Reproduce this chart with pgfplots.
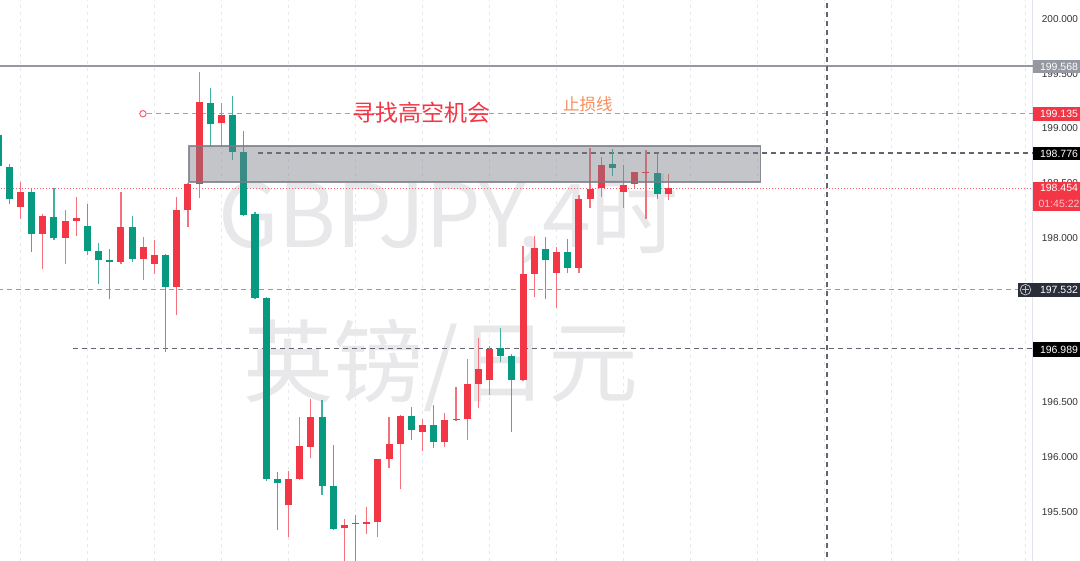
\documentclass[border=0pt]{standalone}
\usepackage{pgfplots}
\pgfplotsset{compat=1.18}
\usepackage{pgfplotstable}
\usepackage{fontspec}
\setmainfont{Liberation Sans}
\newfontfamily\cjk{Noto Sans CJK SC}

\definecolor{upred}{HTML}{F23645}
\definecolor{dngreen}{HTML}{089981}
\definecolor{wickred}{HTML}{F4707B}
\definecolor{wickgreen}{HTML}{40B0A0}
\definecolor{lvlgray}{HTML}{9598A1}
\definecolor{rectgray}{HTML}{787B86}
\definecolor{dashdark}{HTML}{62656F}
\definecolor{dashlight}{HTML}{9A9CA4}
\definecolor{gridc}{HTML}{E6E8EE}
\definecolor{wmark}{HTML}{E8E8EA}
\definecolor{axisc}{HTML}{E0E3EB}
\definecolor{navy}{HTML}{2A2E39}
\definecolor{stoporange}{HTML}{F88D5E}
\definecolor{ticktext}{HTML}{333333}

% red = rising candles, green = falling candles
\pgfplotstableread{
i  o       h       l       c
2  198.286 198.514 198.174 198.417
4  198.039 198.216 197.717 198.204
6  198.000 198.256 197.760 198.158
7  198.158 198.377 198.021 198.180
11 197.781 198.417 197.760 198.103
13 197.811 198.012 197.619 197.915
14 197.760 197.982 197.674 197.845
16 197.555 198.372 197.297 198.256
17 198.258 198.500 198.103 198.493
18 198.493 199.513 198.368 199.242
20 199.047 199.236 198.843 199.123
26 195.559 195.875 195.272 195.799
27 195.802 196.365 195.790 196.100
28 196.091 196.530 195.991 196.368
31 195.349 195.437 195.053 195.376
33 195.391 195.543 195.294 195.409
34 195.409 195.985 195.267 195.982
35 195.984 196.365 195.902 196.119
36 196.121 196.380 195.705 196.377
38 196.226 196.344 196.055 196.292
40 196.137 196.399 196.094 196.338
41 196.338 196.642 196.326 196.350
42 196.350 196.892 196.155 196.664
43 196.669 197.090 196.447 196.806
44 196.700 197.010 196.566 196.989
47 196.706 197.927 196.694 197.668
48 197.668 198.021 197.464 197.909
50 197.678 197.921 197.363 197.875
52 197.729 198.393 197.683 198.353
53 198.356 198.819 198.277 198.447
54 198.459 198.743 198.377 198.667
56 198.423 198.667 198.277 198.484
57 198.490 198.606 198.447 198.600
58 198.594 198.804 198.174 198.606
60 198.402 198.582 198.347 198.454
}\upcandles

\pgfplotstableread{
i  o       h       l       c
0  198.940 198.970 198.620 198.660
1  198.651 198.676 198.311 198.356
3  198.417 198.459 197.875 198.039
5  198.189 198.459 197.982 198.000
8  198.112 198.308 197.845 197.881
9  197.884 197.954 197.583 197.796
10 197.796 197.900 197.440 197.781
12 198.103 198.201 197.781 197.806
15 197.848 197.850 196.962 197.555
19 199.236 199.370 198.828 199.041
21 199.121 199.297 198.715 198.788
22 198.785 198.977 198.204 198.210
23 198.216 198.235 197.446 197.452
24 197.449 197.460 195.784 195.796
25 195.796 195.860 195.333 195.760
29 196.368 196.521 195.650 195.732
30 195.735 196.107 195.333 195.340
32 195.400 195.473 195.053 195.388
37 196.374 196.459 196.153 196.249
39 196.292 196.475 196.085 196.137
45 196.995 197.175 196.865 196.925
46 196.922 196.940 196.231 196.706
49 197.900 198.012 197.440 197.799
51 197.875 197.991 197.683 197.723
55 198.676 198.810 198.569 198.642
59 198.596 198.774 198.356 198.405
}\dncandles

\begin{document}
\begin{tikzpicture}[x=1pt,y=1pt]
\path[use as bounding box, fill=white] (0,0) rectangle (1080,561);
\begin{axis}[
  at={(0,0)}, anchor=south west,
  scale only axis, width=1033pt, height=561pt,
  xmin=0.17, xmax=92.65, ymin=195.0502, ymax=200.1735,
  axis y line*=right, axis x line*=bottom,
  x axis line style={draw=none},
  y axis line style={draw=axisc, line width=1pt},
  xtick={2,8,...,92}, xticklabels={},
  xmajorgrids,
  major x grid style={gridc, line width=0.8pt, dash pattern=on 3pt off 4pt},
  ytick={195.5,196,196.5,198,198.5,199,199.5,200},
  major tick length=0pt,
  yticklabel style={font=\fontsize{10}{12}\selectfont, text=ticktext, xshift=5.4pt,
    /pgf/number format/.cd, fixed, fixed zerofill, precision=3, assume math mode=true},
  clip mode=individual,
  candle/.style={draw=none, no markers, forget plot,
    error bars/.cd, y dir=plus, y explicit, error mark=none},
]

% watermark
\node[anchor=base west, inner sep=0pt, text=wmark, font=\cjk\fontsize{88}{96}\selectfont]
  at (axis cs:19.69,197.909) {GBPJPY,4时};
\node[anchor=base west, inner sep=0pt, text=wmark, font=\cjk\fontsize{90}{100}\selectfont]
  at (axis cs:21.92,196.566) {英镑/日元};

% level lines
\addplot[lvlgray, line width=2pt] coordinates {(0,199.568)(93,199.568)};
\addplot[upred!65, line width=1.2pt, dash pattern=on 5pt off 4pt] coordinates {(13.33,199.135)(93,199.135)};
\addplot[only marks, mark=*, mark size=3.2pt, mark options={fill=white, draw=upred!80, line width=1pt}] coordinates {(12.97,199.135)};
\addplot[dashdark, line width=1.5pt, dash pattern=on 5pt off 4pt] coordinates {(23.27,198.776)(93,198.776)};
\addplot[upred!80, line width=0.8pt, dash pattern=on 1pt off 2pt] coordinates {(0,198.454)(93,198.454)};
\addplot[dashlight, line width=1.4pt, dash pattern=on 5pt off 4pt] coordinates {(0,197.532)(91.31,197.532)};
\addplot[dashdark, line width=1.4pt, dash pattern=on 5pt off 4pt] coordinates {(6.7,196.989)(93,196.989)};
\addplot[dashdark, line width=1.2pt, dash pattern=on 5pt off 4pt] coordinates {(74.21,195)(74.21,200.3)};

% wicks
\addplot[candle, error bar style={draw=wickred, line width=1.2pt}]
  table[x=i, y=l, y error expr=\thisrow{h}-\thisrow{l}] {\upcandles};
\addplot[candle, error bar style={draw=wickgreen, line width=1.2pt}]
  table[x=i, y=l, y error expr=\thisrow{h}-\thisrow{l}] {\dncandles};
% bodies
\addplot[candle, error bar style={draw=upred, line width=7pt}]
  table[x=i, y=o, y error expr=\thisrow{c}-\thisrow{o}] {\upcandles};
\addplot[candle, error bar style={draw=dngreen, line width=7pt}]
  table[x=i, y=c, y error expr=\thisrow{o}-\thisrow{c}] {\dncandles};

% resistance zone
\addplot[fill=rectgray, fill opacity=0.44, draw=rectgray, draw opacity=0.8, line width=1.8pt]
  coordinates {(17.09,198.509)(68.26,198.509)(68.26,198.843)(17.09,198.843)} --cycle;

% annotations
\node[anchor=west, inner sep=0pt, text=upred, font=\cjk\fontsize{23}{26}\selectfont]
  at (axis cs:31.68,199.142) {寻找高空机会};
\node[anchor=west, inner sep=0pt, text=stoporange, font=\cjk\fontsize{16.5}{18}\selectfont]
  at (axis cs:50.57,199.224) {止损线};
\end{axis}

% price labels on the scale
\begin{scope}[every node/.style={text=white, font=\fontsize{10.5}{12}\selectfont, inner sep=0pt}]
\fill[lvlgray] (1033,487.5) rectangle (1080,500.5);
\node at (1059,494) {199.568};
\fill[upred] (1033,439.7) rectangle (1080,453.7);
\node at (1059,446.7) {199.135};
\fill[black] (1033,400.7) rectangle (1080,414.3);
\node at (1059,407.5) {198.776};
\fill[upred] (1033,350.3) rectangle (1080,379.3);
\node at (1059,373) {198.454};
\node[text=upred!30!white] at (1059,357.5) {01:45:22};
\fill[navy] (1017.7,264.3) rectangle (1080,278.3);
\node at (1059,271.3) {197.532};
\draw[white!70!navy, line width=0.8pt] (1025.5,271.3) circle (5.3);
\draw[white!70!navy, line width=0.8pt] (1022.3,271.3) -- (1028.7,271.3) (1025.5,268.1) -- (1025.5,274.5);
\fill[black] (1033,204.3) rectangle (1080,218.7);
\node at (1059,211.5) {196.989};
\end{scope}
\end{tikzpicture}
\end{document}
